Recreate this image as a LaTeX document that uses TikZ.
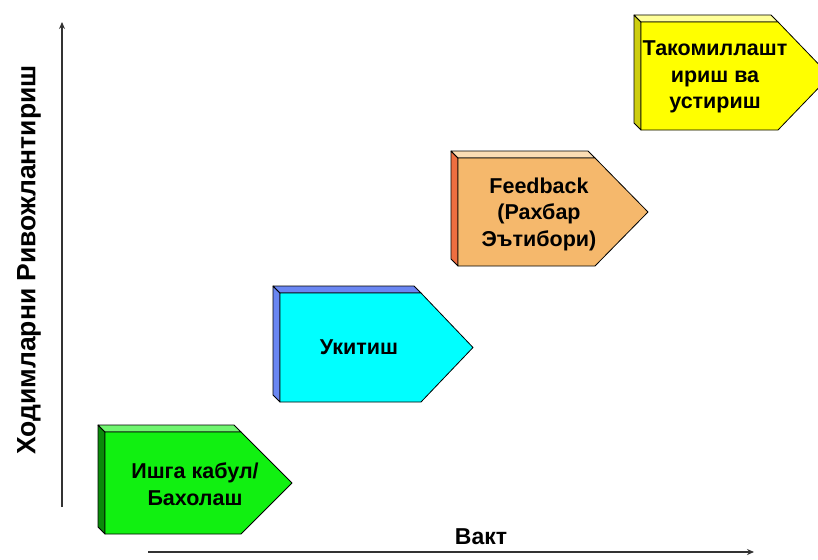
\documentclass[tikz,border=0pt]{standalone}
\usepackage{fontspec}
\setmainfont{Liberation Sans}
\usetikzlibrary{arrows.meta}

\definecolor{grFront}{HTML}{11F011}
\definecolor{grSide}{HTML}{0A8A0A}
\definecolor{grTop}{HTML}{70F570}
\definecolor{blFront}{HTML}{00FFFF}
\definecolor{blSide}{HTML}{6A86F2}
\definecolor{orFront}{HTML}{F5B86C}
\definecolor{orSide}{HTML}{EE6E40}
\definecolor{orTop}{HTML}{FBDDB4}
\definecolor{yeFront}{HTML}{FFFF00}
\definecolor{yeSide}{HTML}{CDCD10}
\definecolor{yeTop}{HTML}{FFFF99}
\definecolor{axisgray}{HTML}{333333}

% 3D pentagon stage: #1 x left, #2 y top, #3 x right of body, #4 x tip,
% #5 y bottom, #6 front colour, #7 side colour, #8 top colour
\newcommand\stagebox[8]{%
  \filldraw[facestroke,fill=#7] (#1,#2) -- ++(-7,-7) -- (#1-7,#5-7) -- (#1,#5) -- cycle;
  \filldraw[facestroke,fill=#8] (#1,#2) -- ++(-7,-7) -- (#3-7,#2-7) -- (#3,#2) -- cycle;
  \filldraw[facestroke,fill=#6] (#1,#2) -- (#3,#2) -- ({#4},{(#2+#5)/2}) -- (#3,#5) -- (#1,#5) -- cycle;
}

\begin{document}
\begin{tikzpicture}[x=1pt,y=-1pt,
  facestroke/.style={draw=black,line width=0.8pt,line join=round},
  stagetext/.style={font=\fontsize{21.5}{26.5}\selectfont\bfseries,align=center,inner sep=0pt,text=black},
  axisline/.style={draw=axisgray,line width=1.3pt,-{Stealth[length=7pt,width=6pt]}},
  axislabel/.style={font=\fontsize{23}{27}\selectfont\bfseries,inner sep=0pt,text=black}]
\useasboundingbox (0,0) rectangle (818,559);

% axes
\coordinate (yfoot) at (62,507);
\coordinate (yhead) at (62,22);
\coordinate (xfoot) at (148,552);
\coordinate (xhead) at (754,552);
\draw[axisline] (yfoot) -- (yhead);
\draw[axisline] (xfoot) -- (xhead);
\node[axislabel,font=\fontsize{26.5}{30}\selectfont\bfseries,rotate=90] (ylabel) at (29,260) {Ходимларни Ривожлантириш};
\node[axislabel] (xlabel) at (481,537) {Вакт};

% stages
\stagebox{105}{432}{241}{292}{534}{grFront}{grSide}{grTop}
\stagebox{280}{293}{421}{473}{402}{blFront}{blSide}{blSide}
\stagebox{458}{158}{595}{648}{266}{orFront}{orSide}{orTop}
\stagebox{641}{22}{778}{830}{130}{yeFront}{yeSide}{yeTop}

\node[stagetext] (hire) at (195,484) {Ишга кабул/\\Бахолаш};
\node[stagetext] (train) at (359,347) {Укитиш};
\node[stagetext] (feedback) at (539,214) {Feedback\\(Рахбар\\Эътибори)};
\node[stagetext] (improve) at (715,77) {Такомиллашт\\ириш ва\\устириш};
\end{tikzpicture}
\end{document}
